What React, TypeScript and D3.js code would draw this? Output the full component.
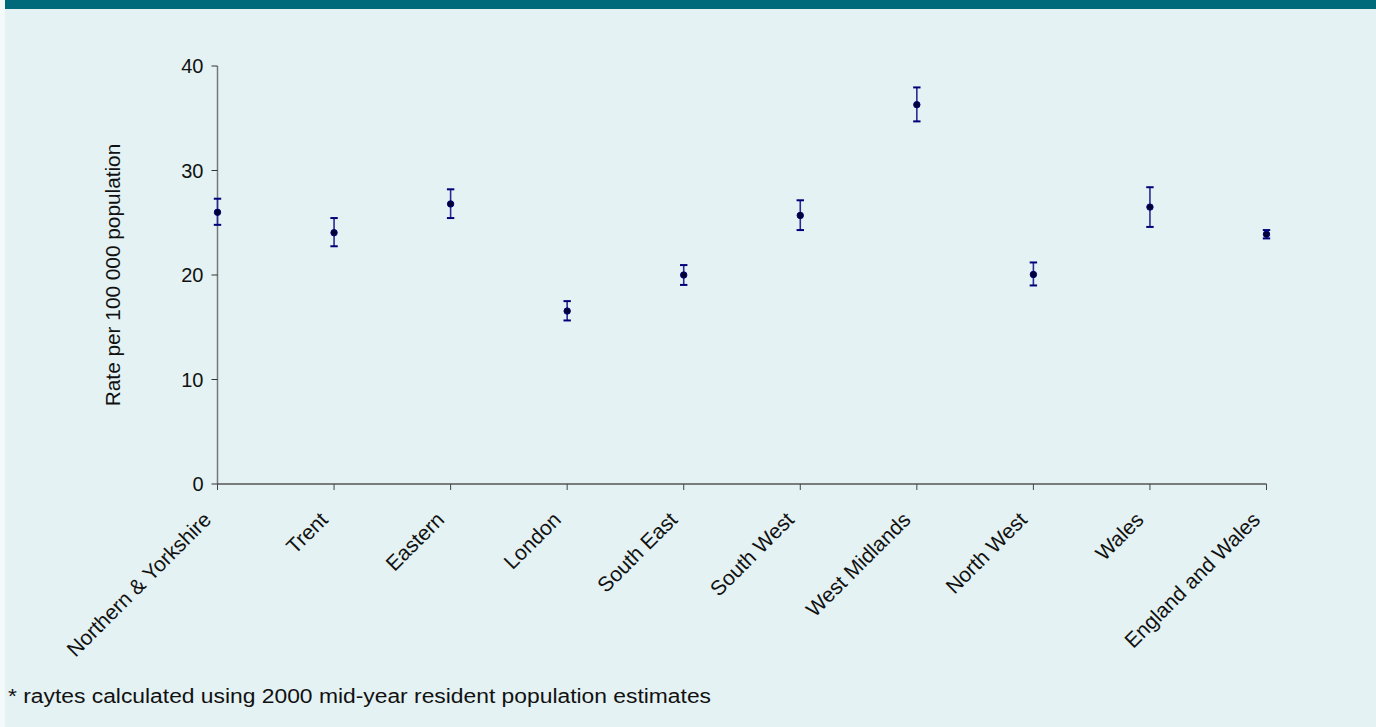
import React from "react";
import * as d3 from "d3";

const categories = [
  "Northern & Yorkshire",
  "Trent",
  "Eastern",
  "London",
  "South East",
  "South West",
  "West Midlands",
  "North West",
  "Wales",
  "England and Wales",
];
const rates = [26.0, 24.05, 26.8, 16.55, 20.0, 25.7, 36.3, 20.05, 26.5, 23.9];
const lowerCI = [24.8, 22.75, 25.45, 15.65, 19.05, 24.3, 34.7, 19.0, 24.6, 23.5];
const upperCI = [27.3, 25.45, 28.2, 17.5, 20.95, 27.15, 37.95, 21.2, 28.4, 24.3];
const yTicks = [0, 10, 20, 30, 40];
const yLabel = "Rate per 100 000 population";
const footnote = "* raytes calculated using 2000 mid-year resident population estimates";

const W = 1376;
const H = 727;
const FONT = "'Liberation Sans', Arial, sans-serif";

export default function App() {
  const x = d3.scalePoint<string>().domain(categories).range([217.5, 1266.5]);
  const y = d3.scaleLinear().domain([0, 40]).range([484, 66]);
  const x0 = x.range()[0];
  const x1 = x.range()[1];
  const yBase = y(0);

  return (
    <div style={{ position: "fixed", left: 0, top: 0, width: W, height: H }}>
      <svg width={W} height={H} style={{ display: "block" }}>
        <rect x={0} y={0} width={W} height={H} fill="#f4fafa" />
        <rect x={5} y={0} width={W - 5} height={H} fill="#e4f2f3" />
        <rect x={5} y={0} width={W - 5} height={9} fill="#00697a" />

        {/* y axis */}
        <line x1={x0} x2={x0} y1={y(40)} y2={yBase} stroke="#777" strokeWidth={1.5} />
        {yTicks.map((t) => (
          <g key={t}>
            <line x1={x0 - 6} x2={x0} y1={y(t)} y2={y(t)} stroke="#333" strokeWidth={1} />
            <text
              x={x0 - 14}
              y={y(t)}
              dy="0.36em"
              textAnchor="end"
              fontFamily={FONT}
              fontSize={20}
              fill="#111"
            >
              {t}
            </text>
          </g>
        ))}
        <text
          transform={`translate(120, ${(y(40) + yBase) / 2}) rotate(-90)`}
          textAnchor="middle"
          fontFamily={FONT}
          fontSize={20.8}
          fill="#111"
        >
          {yLabel}
        </text>

        {/* x axis */}
        <line x1={x0} x2={x1} y1={yBase} y2={yBase} stroke="#555" strokeWidth={1.5} />
        {categories.map((c) => (
          <g key={c}>
            <line x1={x(c)!} x2={x(c)!} y1={yBase} y2={yBase + 6} stroke="#444" strokeWidth={1} />
            <text
              transform={`translate(${x(c)! - 5}, ${yBase + 37}) rotate(-45)`}
              textAnchor="end"
              fontFamily={FONT}
              fontSize={21}
              fill="#111"
            >
              {c}
            </text>
          </g>
        ))}

        {/* error bars and points */}
        {categories.map((c, i) => {
          const cx = x(c)!;
          return (
            <g key={c}>
              <line x1={cx} x2={cx} y1={y(upperCI[i])} y2={y(lowerCI[i])} stroke="#2a2a96" strokeWidth={1.6} />
              <line x1={cx - 3.7} x2={cx + 3.7} y1={y(upperCI[i])} y2={y(upperCI[i])} stroke="#00007a" strokeWidth={2} />
              <line x1={cx - 3.7} x2={cx + 3.7} y1={y(lowerCI[i])} y2={y(lowerCI[i])} stroke="#00007a" strokeWidth={2} />
              <circle cx={cx} cy={y(rates[i])} r={3.2} fill="#000033" stroke="#00007a" strokeWidth={1} />
            </g>
          );
        })}

        <text x={8} y={703} fontFamily={FONT} fontSize={20} fill="#111" textLength={703} lengthAdjust="spacingAndGlyphs">
          {footnote}
        </text>
      </svg>
    </div>
  );
}
